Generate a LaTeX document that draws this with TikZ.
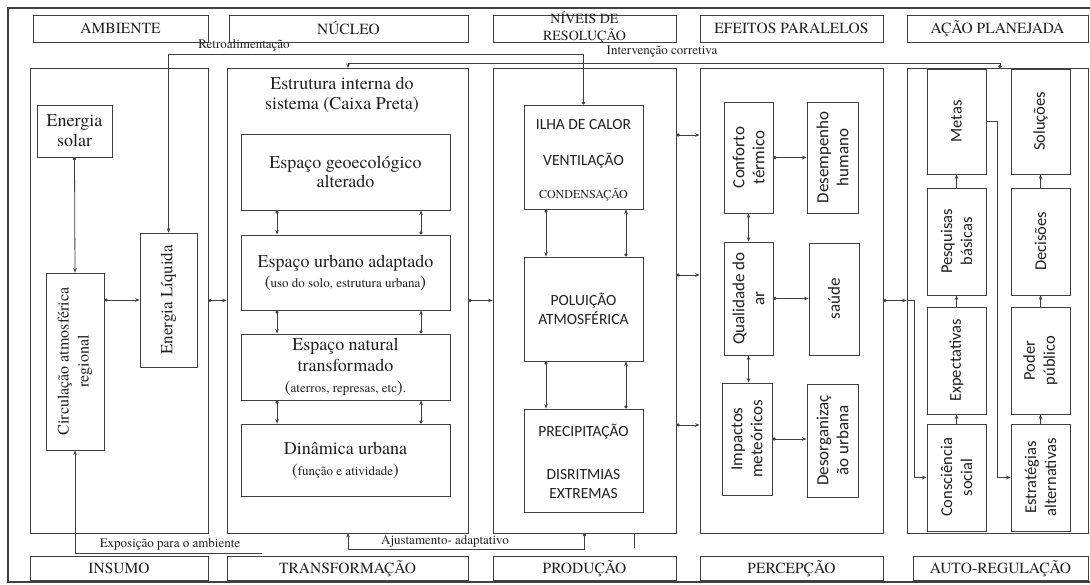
\documentclass[tikz,border=0pt]{standalone}
\usepackage{fontspec}
\setmainfont{TeX Gyre Termes}
\newfontfamily\sansf{Carlito}
\usetikzlibrary{arrows.meta}
\definecolor{ln}{HTML}{404040}
\definecolor{tx}{HTML}{202020}
\newcommand{\fsz}[2]{\fontsize{#1}{#2}\selectfont}
\begin{document}
\begin{tikzpicture}[x=1pt,y=-1pt,
  box/.style={draw=ln, line width=0.9pt, inner sep=0pt, text=tx, align=center},
  hdr/.style={box, font=\fsz{15.5}{18}},
  ser/.style={text=tx, align=center, inner sep=0pt},
  rot/.style={text=tx, align=center, inner sep=0pt, rotate=90},
  srot/.style={rot, font=\sansf\fsz{17}{20}},
  arot/.style={rot, font=\sansf\fsz{16.5}{20}},
  sn/.style={text=tx, align=center, inner sep=0pt, font=\sansf\fsz{15.5}{19}},
  lbl/.style={text=tx, inner sep=0pt, font=\fsz{13}{15}},
  plain/.style={draw=ln, line width=0.8pt},
  arr/.style={plain, -{Stealth[length=4.5pt,width=3.6pt]}},
  darr/.style={plain, {Circle[length=3.2pt]}-{Stealth[length=4.5pt,width=3.6pt]}},
  dd/.style={plain, {Stealth[length=4.5pt,width=3.6pt]}-{Stealth[length=4.5pt,width=3.6pt]}}
]
\useasboundingbox (0,0) rectangle (1090,584);
\fill[white] (0,0) rectangle (1090,584);
\draw[draw=ln, line width=1.4pt] (8,8) rectangle (1100,582);

% ---------- top headers
\node[hdr, minimum width=175pt, minimum height=27pt] (hAmb) at (120.5,28.5) {AMBIENTE};
\node[hdr, minimum width=239pt, minimum height=27pt] (hNuc) at (348.5,28.5) {NÚCLEO};
\node[box, minimum width=183pt, minimum height=27pt] (hNiv) at (584.5,28.5) {};
\node[ser, font=\fsz{14}{17}] (tNiv) at (584.5,28) {NÍVEIS DE\\RESOLUÇÃO};
\node[hdr, minimum width=183pt, minimum height=27pt] (hEfe) at (791.5,28.5) {EFEITOS PARALELOS};
\node[hdr, minimum width=181pt, minimum height=27pt] (hAcao) at (997.5,28.5) {AÇÃO PLANEJADA};

% ---------- bottom headers
\node[hdr, minimum width=178pt, minimum height=24pt] (bIns) at (119,568.5) {INSUMO};
\node[hdr, minimum width=241pt, minimum height=24pt] (bTra) at (347.5,568.5) {TRANSFORMAÇÃO};
\node[hdr, minimum width=183pt, minimum height=24pt] (bPro) at (584.5,568.5) {PRODUÇÃO};
\node[hdr, minimum width=183pt, minimum height=24pt] (bPer) at (791.5,568.5) {PERCEPÇÃO};
\node[hdr, minimum width=175pt, minimum height=24pt] (bAut) at (1000.5,568.5) {AUTO-REGULAÇÃO};

% ---------- main boxes
\node[box, minimum width=178pt, minimum height=465pt] (mAmb) at (119,300.5) {};
\node[box, minimum width=241pt, minimum height=465pt] (mNuc) at (347.5,300.5) {};
\node[box, minimum width=183pt, minimum height=465pt] (mNiv) at (584.5,300.5) {};
\node[box, minimum width=183pt, minimum height=465pt] (mEfe) at (791.5,300.5) {};
\node[box, minimum width=181pt, minimum height=465pt] (mAcao) at (997.5,300.5) {};

% ---------- ambiente
\node[box, minimum width=75pt, minimum height=52pt, font=\fsz{18}{20}] (solar) at (74.5,131) {Energia\\solar};
\node[box, minimum width=58pt, minimum height=177pt] (circ) at (75,361.5) {};
\node[rot, font=\fsz{16}{20}] (tCirc) at (circ) {Circulação atmosférica\\regional};
\node[box, minimum width=57pt, minimum height=134pt] (eliq) at (168.5,300) {};
\node[rot, font=\fsz{17}{20}] (tEliq) at (eliq) {Energia Líquida};

% ---------- núcleo
\node[ser, font=\fsz{18}{20}] (tEst) at (342,95) {Estrutura interna do\\sistema (Caixa Preta)};
\node[box, minimum width=209pt, minimum height=76pt, font=\fsz{18}{19}] (geo) at (345.5,172) {Espaço geoecológico\\alterado};
\node[box, minimum width=209pt, minimum height=75pt, font=\fsz{18}{20}] (urb) at (345.5,272.5)
  {Espaço urbano adaptado\\{\fsz{13}{16}{\fsz{17}{16}(}uso do solo, estrutura urbana{\fsz{17}{16})}}};
\node[box, minimum width=209pt, minimum height=66pt, font=\fsz{18}{21}] (nat) at (345.5,367)
  {Espaço natural\\transformado\\{\fsz{13}{16}{\fsz{17}{16}(}aterros, represas, etc{\fsz{17}{16})}.}};
\node[box, minimum width=209pt, minimum height=72pt, font=\fsz{18}{21}] (din) at (345.5,460)
  {Dinâmica urbana\\{\fsz{13}{16}{\fsz{17}{16}(}função e atividade{\fsz{17}{16})}}};

% ---------- níveis
\node[box, minimum width=119pt, minimum height=104pt] (ilha) at (583.5,157) {};
\node[sn] (tIlha) at (583.5,125) {ILHA DE CALOR};
\node[sn] (tVent) at (583.5,161) {VENTILAÇÃO};
\node[ser, font=\fsz{12}{14}] (tCond) at (583.5,195) {CONDENSAÇÃO};
\node[box, minimum width=119pt, minimum height=104pt] (polu) at (583.5,309) {};
\node[sn] (tPolu) at (polu) {POLUIÇÃO\\ATMOSFÉRICA};
\node[box, minimum width=119pt, minimum height=103pt] (prec) at (583.5,460.5) {};
\node[sn] (tPrec) at (583.5,432) {PRECIPITAÇÃO};
\node[sn] (tDis) at (583.5,484) {DISRITMIAS\\EXTREMAS};

% ---------- efeitos
\node[box, minimum width=49pt, minimum height=111pt] (conf) at (748.5,157.5) {};
\node[srot] (tConf) at (conf) {Conforto\\térmico};
\node[box, minimum width=51pt, minimum height=111pt] (desemp) at (832.5,157.5) {};
\node[srot] (tDesemp) at (desemp) {Desempenho\\humano};
\node[box, minimum width=49pt, minimum height=113pt] (qual) at (748.5,298.5) {};
\node[srot] (tQual) at (qual) {Qualidade do\\ar};
\node[box, minimum width=50pt, minimum height=112pt] (saude) at (834,299) {};
\node[srot] (tSaude) at (saude) {saúde};
\node[box, minimum width=50pt, minimum height=112pt] (imp) at (747,439) {};
\node[srot] (tImp) at (imp) {Impactos\\meteóricos};
\node[box, minimum width=51pt, minimum height=113pt] (desorg) at (832.5,440.5) {};
\node[srot] (tDesorg) at (desorg) {Desorganizaç\\ão urbana};

% ---------- ação
\node[box, minimum width=59pt, minimum height=105pt] (metas) at (956.5,121.5) {};
\node[arot] (tMetas) at (metas) {Metas};
\node[box, minimum width=59pt, minimum height=105pt] (sol) at (1040.5,121.5) {};
\node[arot] (tSol) at (sol) {Soluções};
\node[box, minimum width=59pt, minimum height=107pt] (pesq) at (956.5,241.5) {};
\node[arot] (tPesq) at (pesq) {Pesquisas\\básicas};
\node[box, minimum width=59pt, minimum height=107pt] (dec) at (1040.5,241.5) {};
\node[arot] (tDec) at (dec) {Decisões};
\node[box, minimum width=59pt, minimum height=107pt] (expect) at (956.5,360.5) {};
\node[arot] (tExpect) at (expect) {Expectativas};
\node[box, minimum width=59pt, minimum height=107pt] (poder) at (1040.5,360.5) {};
\node[arot] (tPoder) at (poder) {Poder\\público};
\node[box, minimum width=59pt, minimum height=107pt] (consc) at (956.5,477.5) {};
\node[arot] (tConsc) at (consc) {Consciência\\social};
\node[box, minimum width=59pt, minimum height=107pt] (estrat) at (1040.5,477.5) {};
\node[arot] (tEstrat) at (estrat) {Estratégias\\alternativas};

% ---------- labels
\node[lbl] (tRetro) at (244,45) {Retroalimentação};
\node[lbl] (tInter) at (662,52) {Intervenção corretiva};
\node[lbl] (tExpo) at (170,544) {Exposição para o ambiente};
\node[lbl] (tAjus) at (445,541) {Ajustamento- adaptativo};

% ---------- helper coordinates
\coordinate (rTop) at (0,54);
\coordinate (iTop) at (0,63);
\coordinate (ivA) at (1000,68);
\coordinate (ivB) at (348,68);
\coordinate (ajB) at (348,533);
\coordinate (ajY) at (0,549.5);
\coordinate (tk) at (634,548);
\coordinate (exA) at (262,553);
\coordinate (xL1) at (546,0);
\coordinate (xR1) at (626,0);
\coordinate (xL2) at (277,0);
\coordinate (xR2) at (421,0);
\coordinate (yA) at (0,135);
\coordinate (yB) at (0,275);
\coordinate (yC) at (0,425);
\coordinate (xM) at (997,0);
\coordinate (xC) at (914,0);

% ---------- connectors: ambiente
\draw[darr] (solar.south) -- (circ.north);
\draw[darr] (circ.east |- eliq.west) -- (eliq.west);
\draw[darr] (mAmb.east) -- (mNuc.west);
\draw[darr] (mNuc.east) -- (mNiv.west);
\draw[arr] (exA) -- (exA -| circ.south) -- (circ.south);

% feedback lines
\draw[darr] (ilha.north) -- (ilha.north |- rTop) -| (eliq.north);
\draw[darr] (ivA) -- (ivA |- iTop) -| (ivB);
\draw[darr] (mNiv.south) -- (mNiv.south |- ajY) -| (ajB);
\draw[plain] (mNiv.south -| tk) -- (tk);

% núcleo internal
\draw[darr] (geo.south -| xL2) -- (urb.north -| xL2);
\draw[darr] (urb.north -| xR2) -- (geo.south -| xR2);
\draw[darr] (urb.south -| xL2) -- (nat.north -| xL2);
\draw[darr] (nat.north -| xR2) -- (urb.south -| xR2);
\draw[darr] (nat.south -| xL2) -- (din.north -| xL2);
\draw[darr] (din.north -| xR2) -- (nat.south -| xR2);

% níveis internal
\draw[darr] (ilha.south -| xL1) -- (polu.north -| xL1);
\draw[darr] (polu.north -| xR1) -- (ilha.south -| xR1);
\draw[darr] (polu.south -| xL1) -- (prec.north -| xL1);
\draw[darr] (prec.north -| xR1) -- (polu.south -| xR1);

% níveis -> efeitos
\draw[darr] (mNiv.east |- yA) -- (mEfe.west |- yA);
\draw[darr] (mNiv.east |- yB) -- (mEfe.west |- yB);
\draw[darr] (mNiv.east |- yC) -- (mEfe.west |- yC);

% efeitos internal
\draw[darr] (conf.east) -- (conf.east -| desemp.west);
\draw[darr] (qual.east) -- (qual.east -| saude.west);
\draw[darr] (imp.east) -- (imp.east -| desorg.west);
\draw[dd] (conf.south) -- (qual.north);
\draw[dd] (qual.south) -- (qual.south |- imp.north);

% efeitos -> ação
\draw[darr] (mEfe.east) -- (mAcao.west);
\draw[arr] (mAcao.west) -- (mAcao.west -| xC) -- (xC |- consc.west) -- (consc.west);
\draw[arr] (metas.east) -- (metas.east -| xM) -- (xM |- estrat.west) -- (estrat.west);

% ação internal
\draw[arr] (consc.north) -- (expect.south);
\draw[arr] (expect.north) -- (pesq.south);
\draw[arr] (pesq.north) -- (metas.south);
\draw[arr] (estrat.north) -- (poder.south);
\draw[arr] (poder.north) -- (dec.south);
\draw[arr] (dec.north) -- (sol.south);
\end{tikzpicture}
\end{document}
